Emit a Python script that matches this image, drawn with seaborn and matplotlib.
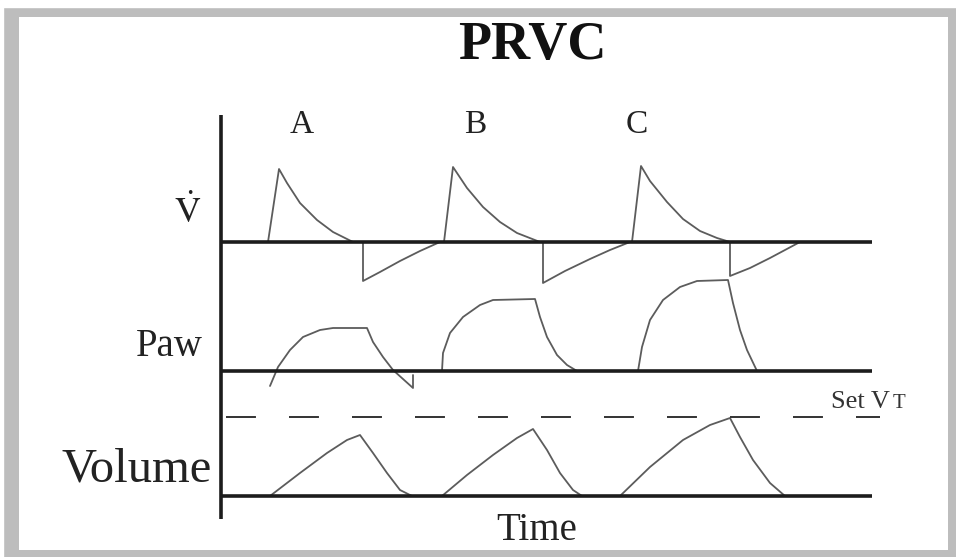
"""
PRVC ventilator waveform schematic (flow, airway pressure, volume vs. time)
"""

import matplotlib.pyplot as plt
from matplotlib.patches import Rectangle
import pandas as pd
import seaborn as sns

# Breath labels and where they sit on the time axis
breath_names = ['A', 'B', 'C']
breath_label_t = [302, 475, 637]

# Flow (V dot): time, value above baseline, breath
flow_t = [268, 279, 287, 300, 317, 333, 353, 363, 363, 380, 400, 420, 440,
          444, 453, 467, 483, 500, 517, 540, 543, 543, 565, 590, 610, 630,
          632, 641, 650, 667, 683, 700, 717, 730, 730, 750, 770, 785, 800]
flow_v = [0, 73, 59, 39, 22, 10, 0, 0, -39, -30, -19, -9, 0,
          0, 75, 54, 35, 20, 9, 0, 0, -41, -29, -17, -8, 0,
          0, 76, 61, 40, 23, 11, 4, 0, -34, -26, -16, -8, 0]
flow_breath = ['A'] * 13 + ['B'] * 13 + ['C'] * 13

# Airway pressure (Paw)
paw_t = [270, 278, 290, 303, 320, 333, 367, 373, 383, 393, 413, 413,
         442, 443, 450, 463, 480, 493, 535, 540, 547, 557, 567, 577,
         638, 642, 650, 663, 680, 697, 728, 733, 740, 747, 757]
paw_v = [-15, 4, 21, 34, 41, 43, 43, 29, 14, 1, -17, -4,
         0, 18, 38, 54, 66, 71, 72, 54, 34, 16, 6, 0,
         0, 24, 51, 71, 84, 90, 91, 68, 41, 21, 0]
paw_breath = ['A'] * 12 + ['B'] * 12 + ['C'] * 11

# Volume
vol_t = [270, 300, 327, 347, 360, 373, 387, 400, 412,
         442, 467, 493, 517, 533, 547, 560, 573, 582,
         620, 650, 683, 710, 730, 740, 753, 770, 785]
vol_v = [0, 23, 43, 56, 61, 43, 23, 6, 0,
         0, 21, 41, 58, 67, 46, 23, 6, 0,
         0, 29, 56, 71, 78, 59, 36, 13, 0]
vol_breath = ['A'] * 9 + ['B'] * 9 + ['C'] * 9

# Set tidal volume level
set_vt = 79

# Layout (pixel rows of each trace's baseline)
FLOW_BASE = 242
PAW_BASE = 371
VOL_BASE = 496
T_START = 221
T_END = 872

WAVE = '#5c5c5c'
INK = '#1c1c1c'

sns.set_theme(style='white')
plt.rcParams['font.family'] = ['Liberation Serif', 'DejaVu Serif']
plt.rcParams['mathtext.fontset'] = 'stix'


def trace_df(t, v, breath, base):
    df = pd.DataFrame({'t': t, 'v': v, 'breath': breath})
    df['y'] = base - df['v']
    return df


def main():
    fig = plt.figure(figsize=(9.56, 5.57), dpi=100, facecolor='#bdbdbd')
    # thin white margin outside the grey frame (top and left)
    fig.patches.append(Rectangle((0, 550 / 557), 1, 7 / 557,
                                 transform=fig.transFigure,
                                 color='white', zorder=0))
    fig.patches.append(Rectangle((0, 0), 3 / 956, 1,
                                 transform=fig.transFigure,
                                 color='white', zorder=0))

    ax = fig.add_axes([19 / 956, 7 / 557, 929 / 956, 533 / 557])
    ax.set_facecolor('white')

    # waveforms
    for t, v, b, base in [(flow_t, flow_v, flow_breath, FLOW_BASE),
                          (paw_t, paw_v, paw_breath, PAW_BASE),
                          (vol_t, vol_v, vol_breath, VOL_BASE)]:
        sns.lineplot(data=trace_df(t, v, b, base), x='t', y='y',
                     units='breath', estimator=None, sort=False,
                     color=WAVE, lw=1.3, legend=False, ax=ax)

    # baselines and time axis
    ax.hlines([FLOW_BASE, PAW_BASE, VOL_BASE], T_START, T_END,
              color=INK, lw=2.6, zorder=3)
    ax.vlines(T_START, 115, 519, color=INK, lw=2.6, zorder=3)

    # set tidal volume dashed line
    ax.hlines(VOL_BASE - set_vt, 226, 880, color='#333333', lw=1.4,
              linestyles=(0, (15.4, 17)))

    # text
    ax.text(532, 46, 'PRVC', ha='center', va='center', fontsize=39,
            fontweight='bold', color='#111111')
    for name, t in zip(breath_names, breath_label_t):
        ax.text(t, 125, name, ha='center', va='center', fontsize=24,
                color='#222222')
    ax.text(188, 213, r'$\dot{\mathrm{V}}$', ha='center', va='center',
            fontsize=26, color='#222222')
    ax.text(203, 356, 'Paw', ha='right', va='baseline', fontsize=28,
            color='#222222')
    ax.text(212, 482, 'Volume', ha='right', va='baseline', fontsize=35,
            color='#222222')
    ax.text(537, 540, 'Time', ha='center', va='baseline', fontsize=28,
            color='#222222')
    ax.text(831, 408, 'Set V', ha='left', va='baseline', fontsize=19,
            color='#333333')
    ax.text(893, 408, 'T', ha='left', va='baseline', fontsize=15,
            color='#333333')

    ax.set_xlim(19, 948)
    ax.set_ylim(550, 17)
    ax.set(xlabel='', ylabel='', xticks=[], yticks=[])
    for s in ax.spines.values():
        s.set_visible(False)

    fig.savefig('out.png', dpi=100, facecolor=fig.get_facecolor())


if __name__ == '__main__':
    main()
